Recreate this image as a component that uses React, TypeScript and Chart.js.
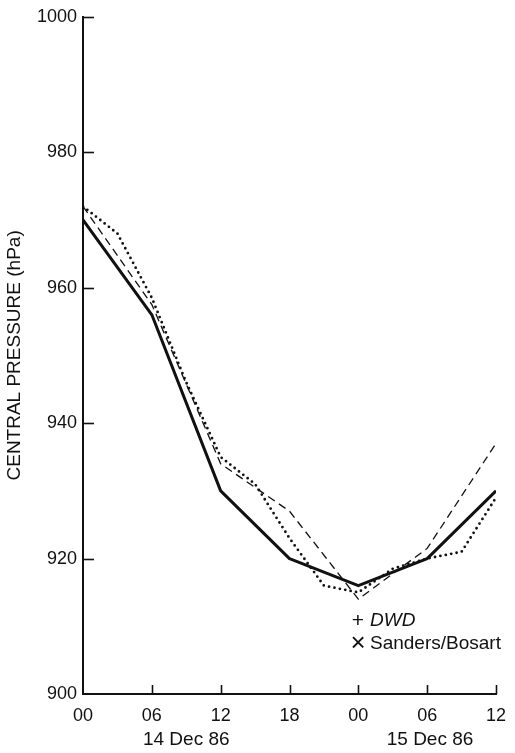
import React, { useEffect, useRef } from "react";
import { Chart, registerables } from "chart.js";

Chart.register(...registerables);

// Hours after 00 UTC 14 Dec 86
const sixHourly = [0, 6, 12, 18, 24, 30, 36];
const threeHourly = [0, 3, 6, 9, 12, 15, 18, 21, 24, 27, 30, 33, 36];

// Central pressure (hPa)
const solidSeries = [970, 956, 930, 920, 916, 920, 930];
const dashedSeries = [972, 957.5, 934, 927, 914, 921.5, 937];
const dottedSeries = [972, 968, 958.5, 946, 935, 931, 923, 916, 915, 918.5, 920, 921, 929];

const yTickValues = [900, 920, 940, 960, 980, 1000];
const xTickValues = [0, 6, 12, 18, 24, 30, 36];
const xTickLabels = ["00", "06", "12", "18", "00", "06", "12"];
const dateLabels = ["14 Dec 86", "15 Dec 86"];
const dateLabelHours = [9, 30.25];
const legendSymbols = ["+", "\u00D7"];
const legendNames = ["DWD", "Sanders/Bosart"];
const yTitle = "CENTRAL PRESSURE (hPa)";

const FONT = "'Liberation Sans', Arial, Helvetica, sans-serif";
const INK = "#111";

const toPoints = (xs: number[], ys: number[]) => xs.map((x, i) => ({ x, y: ys[i] }));

const overlayPlugin = {
  id: "overlay",
  afterDraw(chart: any) {
    const { ctx } = chart;
    const xs = chart.scales.x;
    const ys = chart.scales.y;
    const left = chart.chartArea.left;
    const bottom = chart.chartArea.bottom;
    const right = chart.chartArea.right;
    ctx.save();
    ctx.strokeStyle = INK;
    ctx.lineWidth = 1.6;
    ctx.lineCap = "butt";
    // inward y ticks
    yTickValues.forEach((v) => {
      if (v === 900) return;
      const py = Math.round(ys.getPixelForValue(v)) + 0.5;
      ctx.beginPath();
      ctx.moveTo(left, py);
      ctx.lineTo(left + 11, py);
      ctx.stroke();
    });
    // inward x ticks
    xTickValues.forEach((v) => {
      if (v === 0) return;
      const px = Math.round(xs.getPixelForValue(v)) + 0.5;
      ctx.beginPath();
      ctx.moveTo(px, bottom);
      ctx.lineTo(px, bottom - 9);
      ctx.stroke();
    });
    // date labels
    ctx.fillStyle = INK;
    ctx.font = `19px ${FONT}`;
    ctx.textAlign = "center";
    ctx.textBaseline = "middle";
    dateLabels.forEach((t, i) => {
      ctx.fillText(t, xs.getPixelForValue(dateLabelHours[i]), bottom + 46);
    });
    // legend
    const lx = right - 126;
    const ly0 = bottom - 73;
    const symbolSizes = [21, 26];
    legendNames.forEach((name, i) => {
      const ly = ly0 + i * 23;
      ctx.textAlign = "center";
      ctx.font = `${symbolSizes[i]}px ${FONT}`;
      ctx.fillText(legendSymbols[i], lx - 12, ly);
      ctx.textAlign = "left";
      ctx.font = i === 0 ? `italic 19px ${FONT}` : `19px ${FONT}`;
      ctx.fillText(name, lx, ly);
    });
    ctx.restore();
  },
};

export default function App() {
  const canvasRef = useRef<HTMLCanvasElement | null>(null);

  useEffect(() => {
    if (!canvasRef.current) return;
    Chart.defaults.font.family = FONT;
    Chart.defaults.color = INK;
    const chart = new Chart(canvasRef.current, {
      type: "line",
      data: {
        datasets: [
          {
            label: "solid",
            data: toPoints(sixHourly, solidSeries),
            borderColor: INK,
            borderWidth: 3,
            pointRadius: 0,
            tension: 0,
            borderJoinStyle: "round",
          },
          {
            label: "dashed",
            data: toPoints(sixHourly, dashedSeries),
            borderColor: INK,
            borderWidth: 1.3,
            borderDash: [8, 5],
            pointRadius: 0,
            tension: 0,
          },
          {
            label: "dotted",
            data: toPoints(threeHourly, dottedSeries),
            borderColor: INK,
            borderWidth: 2.8,
            borderDash: [0, 5.5],
            borderCapStyle: "round",
            pointRadius: 0,
            tension: 0,
          },
        ],
      },
      options: {
        responsive: false,
        animation: false,
        devicePixelRatio: 1,
        layout: { padding: { top: 15, right: 19, left: 0, bottom: 0 } },
        plugins: { legend: { display: false }, tooltip: { enabled: false } },
        scales: {
          x: {
            type: "linear",
            min: 0,
            max: 36,
            afterBuildTicks: (scale: any) => {
              scale.ticks = xTickValues.map((v) => ({ value: v }));
            },
            afterFit: (scale: any) => {
              scale.height = 59;
            },
            grid: { display: false },
            border: { display: true, color: INK, width: 2 },
            ticks: {
              padding: 3,
              font: { size: 18 },
              color: INK,
              maxRotation: 0,
              autoSkip: false,
              callback: (v: any) => {
                const i = xTickValues.indexOf(Number(v));
                return i >= 0 ? xTickLabels[i] : "";
              },
            },
          },
          y: {
            type: "linear",
            min: 900,
            max: 1000,
            afterBuildTicks: (scale: any) => {
              scale.ticks = yTickValues.map((v) => ({ value: v }));
            },
            afterFit: (scale: any) => {
              scale.width = 83;
            },
            grid: { display: false, drawTicks: false },
            border: { display: true, color: INK, width: 2 },
            ticks: {
              padding: 6,
              font: { size: 18 },
              color: INK,
              callback: (v: any) => String(v),
            },
            title: {
              display: true,
              text: yTitle,
              font: { size: 19 },
              color: INK,
              padding: { top: 3, bottom: 0 },
            },
          },
        },
      },
      plugins: [overlayPlugin],
    } as any);
    return () => chart.destroy();
  }, []);

  return (
    <div style={{ position: "fixed", left: 0, top: 0, width: 515, height: 753, background: "#fff" }}>
      <canvas ref={canvasRef} width={515} height={753} style={{ display: "block" }} />
    </div>
  );
}
